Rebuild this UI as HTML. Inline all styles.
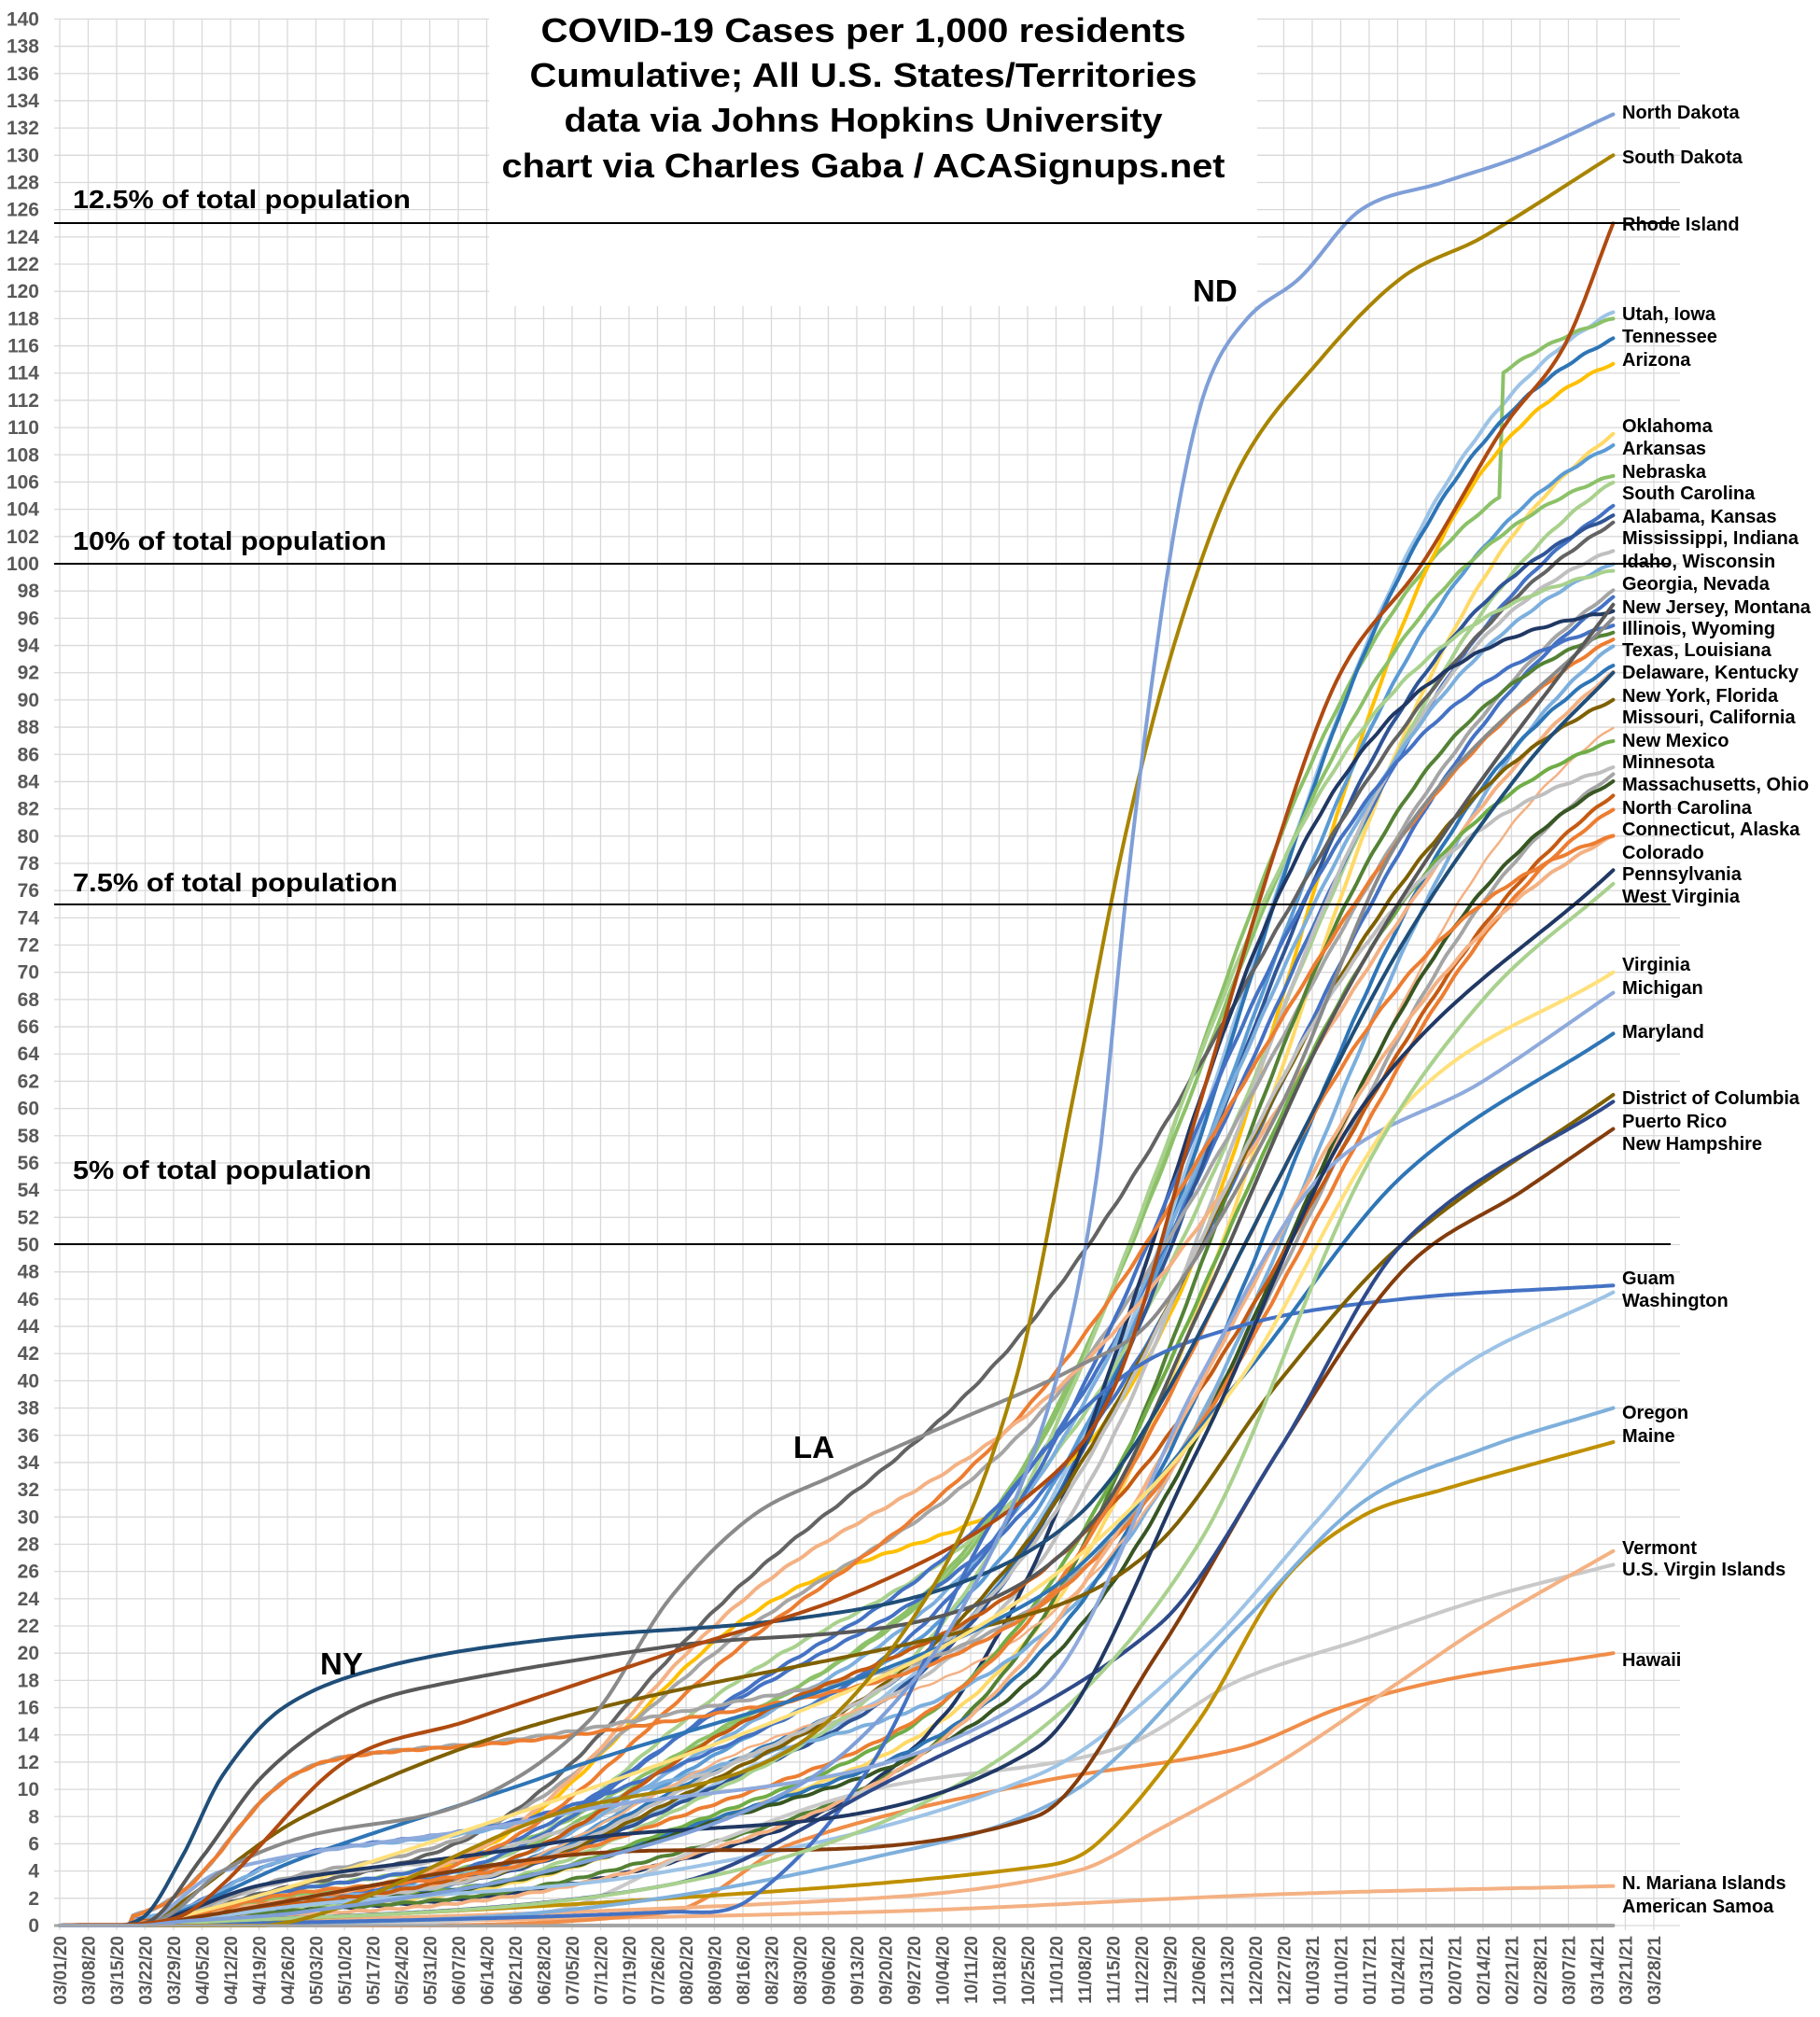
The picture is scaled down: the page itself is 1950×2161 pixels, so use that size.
<!DOCTYPE html>
<html><head><meta charset="utf-8">
<style>
html,body{margin:0;padding:0;background:#fff;}
svg{display:block;}
text{font-family:"Liberation Sans",sans-serif;font-weight:bold;}
</style></head>
<body>
<svg id="s" width="1950" height="2161" viewBox="0 0 1950 2161" xmlns="http://www.w3.org/2000/svg">
<rect width="1950" height="2161" fill="#fff"/>
<g id="grid" stroke="#d9d9d9" stroke-width="1.3"></g>
<rect x="524" y="0" width="823" height="328" fill="#fff"/>
<g id="ylab" fill="#595959" font-size="21" text-anchor="end"></g>
<g id="xlab" fill="#595959" font-size="19" text-anchor="end"></g>
<g id="series" fill="none" stroke-width="4" stroke-linejoin="round" stroke-linecap="round"></g>
<g stroke="#000" stroke-width="2">
<line x1="58" y1="239" x2="1790" y2="239"/>
<line x1="58" y1="604" x2="1790" y2="604"/>
<line x1="58" y1="969" x2="1790" y2="969"/>
<line x1="58" y1="1333" x2="1790" y2="1333"/>
</g>
<line x1="58" y1="2063" x2="1730" y2="2063" stroke="#a5a5a5" stroke-width="3"/>
<g font-size="28" fill="#000">
<text x="78" y="223" textLength="362" lengthAdjust="spacingAndGlyphs">12.5% of total population</text>
<text x="78" y="589" textLength="336" lengthAdjust="spacingAndGlyphs">10% of total population</text>
<text x="78" y="955" textLength="348" lengthAdjust="spacingAndGlyphs">7.5% of total population</text>
<text x="78" y="1263" textLength="320" lengthAdjust="spacingAndGlyphs">5% of total population</text>
</g>
<g font-size="36" fill="#000" text-anchor="middle">
<text x="925" y="45" textLength="691" lengthAdjust="spacingAndGlyphs">COVID-19 Cases per 1,000 residents</text>
<text x="925" y="93" textLength="715" lengthAdjust="spacingAndGlyphs">Cumulative; All U.S. States/Territories</text>
<text x="925" y="141" textLength="641" lengthAdjust="spacingAndGlyphs">data via Johns Hopkins University</text>
<text x="925" y="190" textLength="775" lengthAdjust="spacingAndGlyphs">chart via Charles Gaba / ACASignups.net</text>
</g>
<g font-size="33" fill="#000">
<text x="1278" y="323">ND</text>
<text x="850" y="1562">LA</text>
<text x="343" y="1794">NY</text>
</g>
<g font-size="20" fill="#000">
<text x="1738" y="127">North Dakota</text>
<text x="1738" y="175">South Dakota</text>
<text x="1738" y="247">Rhode Island</text>
<text x="1738" y="343">Utah, Iowa</text>
<text x="1738" y="367">Tennessee</text>
<text x="1738" y="392">Arizona</text>
<text x="1738" y="463">Oklahoma</text>
<text x="1738" y="487">Arkansas</text>
<text x="1738" y="512">Nebraska</text>
<text x="1738" y="535">South Carolina</text>
<text x="1738" y="560">Alabama, Kansas</text>
<text x="1738" y="583">Mississippi, Indiana</text>
<text x="1738" y="608">Idaho, Wisconsin</text>
<text x="1738" y="632">Georgia, Nevada</text>
<text x="1738" y="657">New Jersey, Montana</text>
<text x="1738" y="680">Illinois, Wyoming</text>
<text x="1738" y="703">Texas, Louisiana</text>
<text x="1738" y="727">Delaware, Kentucky</text>
<text x="1738" y="752">New York, Florida</text>
<text x="1738" y="775">Missouri, California</text>
<text x="1738" y="800">New Mexico</text>
<text x="1738" y="823">Minnesota</text>
<text x="1738" y="847">Massachusetts, Ohio</text>
<text x="1738" y="872">North Carolina</text>
<text x="1738" y="895">Connecticut, Alaska</text>
<text x="1738" y="920">Colorado</text>
<text x="1738" y="943">Pennsylvania</text>
<text x="1738" y="967">West Virginia</text>
<text x="1738" y="1040">Virginia</text>
<text x="1738" y="1065">Michigan</text>
<text x="1738" y="1112">Maryland</text>
<text x="1738" y="1183">District of Columbia</text>
<text x="1738" y="1208">Puerto Rico</text>
<text x="1738" y="1232">New Hampshire</text>
<text x="1738" y="1376">Guam</text>
<text x="1738" y="1400">Washington</text>
<text x="1738" y="1520">Oregon</text>
<text x="1738" y="1545">Maine</text>
<text x="1738" y="1665">Vermont</text>
<text x="1738" y="1688">U.S. Virgin Islands</text>
<text x="1738" y="1785">Hawaii</text>
<text x="1738" y="2024">N. Mariana Islands</text>
<text x="1738" y="2049">American Samoa</text>
</g>
</svg>
<script>
var NS="http://www.w3.org/2000/svg";
function el(t,a,p,txt){var e=document.createElementNS(NS,t);for(var k in a)e.setAttribute(k,a[k]);if(txt!==undefined)e.textContent=txt;p.appendChild(e);return e;}
function X(d){return 64+4.357*d;}
function Y(v){return 2063-14.59*v;}
var grid=document.getElementById('grid'),yl=document.getElementById('ylab'),xl=document.getElementById('xlab');
for(var v=0;v<=140;v+=2){el('line',{x1:58,y1:Y(v),x2:1800,y2:Y(v)},grid);el('text',{x:42,y:Y(v)+7},yl,String(v));}
var base=new Date(2020,2,1);
for(var k=0;k<=56;k++){var x=X(7*k);el('line',{x1:x,y1:20,x2:x,y2:2068},grid);
var dt=new Date(base.getTime()+7*k*86400000+3600000*3);
var s=('0'+(dt.getMonth()+1)).slice(-2)+'/'+('0'+dt.getDate()).slice(-2)+'/'+String(dt.getFullYear()).slice(2);
el('text',{x:0,y:0,transform:'translate('+(x+7)+',2074) rotate(-90)'},xl,s);}
function sig(z){return 1/(1+Math.exp(-z));}
var ser=document.getElementById('series');
function drawVals(f,col,w){var d='';for(var t=0;t<=382;t++){var v=f(t);d+=(t?'L':'M')+X(t).toFixed(1)+' '+Y(v).toFixed(1);}
el('path',{d:d,stroke:col,'stroke-width':w||4},ser);}
function gen(F,s1,s2,c,w,col,jump,sw){jump=jump||0;var lin=F*0.04,W=F-s1-s2-lin-jump;
var a=sig(-c/w),b=sig((382-c)/w);
drawVals(function(t){var v=s1*sig((t-42)/8)+s2*sig((t-140)/20)+lin*t/382+W*(sig((t-c)/w)-a)/(b-a)+(t>=355?jump:0);
v+=0.06*Math.sin(t*0.9+F);return Math.max(0,v*(t<18?0:1));},col,sw);}
function pts(P,col,sw){drawVals(function(t){for(var i=0;i<P.length-1;i++){if(t<=P[i+1][0]){var p0=P[Math.max(0,i-1)],p1=P[i],p2=P[i+1],p3=P[Math.min(P.length-1,i+2)];
var u=(t-p1[0])/(p2[0]-p1[0]),u2=u*u,u3=u2*u;
var m1=(p2[1]-p0[1])/(p2[0]-p0[0]||1)*(p2[0]-p1[0]),m2=(p3[1]-p1[1])/(p3[0]-p1[0]||1)*(p2[0]-p1[0]);
var v=(2*u3-3*u2+1)*p1[1]+(u3-2*u2+u)*m1+(-2*u3+3*u2)*p2[1]+(u3-u2)*m2;return Math.max(0,v);}}return P[P.length-1][1];},col,sw);}
var G=[
[118.5,1,8,290,30,'#9dc3e6'],[118,2,12,280,28,'#8cc168',9],[116.5,1,10,290,28,'#2e75b6'],[114.7,1,24,305,22,'#ffc000'],
[109.5,0.5,6,300,30,'#ffd966'],[108.7,0.5,12,290,30,'#5b9bd5'],[106.5,1.5,12,280,30,'#8cc168'],[106,0.5,18,300,32,'#a9d18e'],
[104.2,1,15,295,35,'#4472c4'],[103.5,1,8,285,30,'#2f5597'],[103,2,22,290,40,'#636363'],[101,3,8,290,28,'#bfbfbf'],
[100,1,12,285,32,'#7cafdd'],[99.5,0.5,8,270,28,'#a9d18e'],[98,3,18,300,38,'#a5a5a5'],[97.5,2,14,300,35,'#4472c4'],
[96.5,0.5,3,270,25,'#203864'],[95.5,5,6,275,30,'#4472c4'],[95,0.5,4,285,28,'#548235'],[94.5,1,18,290,40,'#ed7d31'],
[94,5,6,310,30,'#7cafdd'],[92.5,1,6,300,30,'#2e75b6'],[92,1,24,310,40,'#f4b183'],[90,1,8,285,35,'#7f6000'],
[88,1,12,310,30,'#f4b183',0,2.5],[87,1,6,285,30,'#70ad47'],[85,1,10,280,30,'#bfbfbf'],[84.5,12,3,310,30,'#a5a5a5'],
[84,1,6,300,30,'#375623'],[83,1,14,310,35,'#c55a11'],[82,12,2,310,32,'#ed7d31'],[80,0.2,3,290,35,'#f4b183'],[80,2,6,285,30,'#ed7d31']];
G.forEach(function(g){gen(g[0],g[1],g[2],g[3],g[4],g[5],g[6],g[7]);});
pts([[0,0],[18,0],[150,0],[382,0]],'#a5a5a5');
pts([[0,0],[20,0],[200,1],[300,2.3],[382,2.9]],'#f4b183');
pts([[0,0],[20,0],[150,1],[180,6],[240,10.5],[290,13],[315,16],[340,18],[382,20]],'#f08d48');
pts([[0,0],[20,0],[120,1],[160,6],[200,10],[260,13],[290,18],[320,21],[350,24],[382,26.5]],'#c9c9c9');
pts([[0,0],[20,0],[200,2],[250,4],[270,7],[300,12],[330,18],[350,22],[382,27.5]],'#f4b183');
pts([[0,0],[20,0],[150,2],[240,4.3],[255,6],[280,15],[300,25],[320,30],[340,32],[382,35.5]],'#bf9000');
pts([[0,0],[20,0],[120,1],[200,5],[250,10],[290,22],[320,31],[350,35],[382,38]],'#7fb0dc');
pts([[0,0],[20,0],[60,1.5],[150,4],[240,11],[280,20],[310,30],[340,40],[382,46.5]],'#9dc3e6');
pts([[0,0],[20,0],[150,1],[170,2],[200,12],[230,30],[260,40],[290,44],[330,46],[382,47]],'#4472c4');
pts([[0,0],[20,0],[120,5],[240,8],[270,20],[300,35],[330,48],[360,54],[382,58.5]],'#843c0c');
pts([[0,0],[20,0],[60,8],[120,15],[240,23],[270,28],[300,40],[330,50],[382,61]],'#7f6000');
pts([[0,0],[20,0],[150,3],[200,10],[270,22],[300,35],[330,50],[382,60.5]],'#2e4a8a');
pts([[0,0],[20,0],[60,5],[120,11],[240,24],[290,40],[330,55],[382,65.5]],'#2e75b6');
pts([[0,0],[20,0],[40,4],[120,8],[240,17],[280,40],[310,55],[350,62],[382,68.5]],'#8faadc');
pts([[0,0],[20,0],[90,6],[200,18],[250,27],[290,40],[330,60],[382,70]],'#ffe07a');
pts([[0,0],[20,0],[150,3],[230,12],[280,28],[320,55],[350,68],[382,76.5]],'#a9d18e');
pts([[0,0],[20,0],[50,3],[120,6],[240,13],[280,35],[320,60],[382,77.5]],'#203864');
pts([[0,0],[25,0.5],[40,4],[60,6.5],[100,9],[130,15],[150,24],[170,30],[190,33],[220,37],[250,41],[270,45],[300,60],[330,80],[382,96]],'#8a8a8a');
pts([[0,0],[22,0.3],[35,5],[50,11],[70,15.5],[90,17.5],[150,20.5],[220,23],[255,30],[280,45],[310,65],[340,80],[382,97]],'#595959');
pts([[0,0],[20,0.5],[30,5],[40,11],[55,16],[80,19],[120,21],[180,22.5],[220,25],[250,30],[270,38],[300,55],[330,72],[360,85],[382,92]],'#1f4e79');
pts([[0,0],[28,0.5],[40,3],[70,12],[100,15],[150,20],[200,25],[240,32],[260,40],[280,60],[300,80],[315,92],[335,100],[355,110],[370,116],[382,125]],'#b04a10');
pts([[0,0],[20,0],[60,0.5],[120,8],[180,13],[215,25],[235,40],[250,62],[262,80],[275,95],[290,107],[310,115],[330,121],[350,124],[382,130]],'#a88400');
pts([[0,0],[20,0],[30,0.3],[60,1],[120,4],[180,10],[210,18],[230,28],[245,40],[255,55],[262,75],[268,90],[275,104],[282,113],[292,118],[305,121],[320,126],[340,128],[360,130],[382,133]],'#7f9fd8');
</script>
</body></html>
